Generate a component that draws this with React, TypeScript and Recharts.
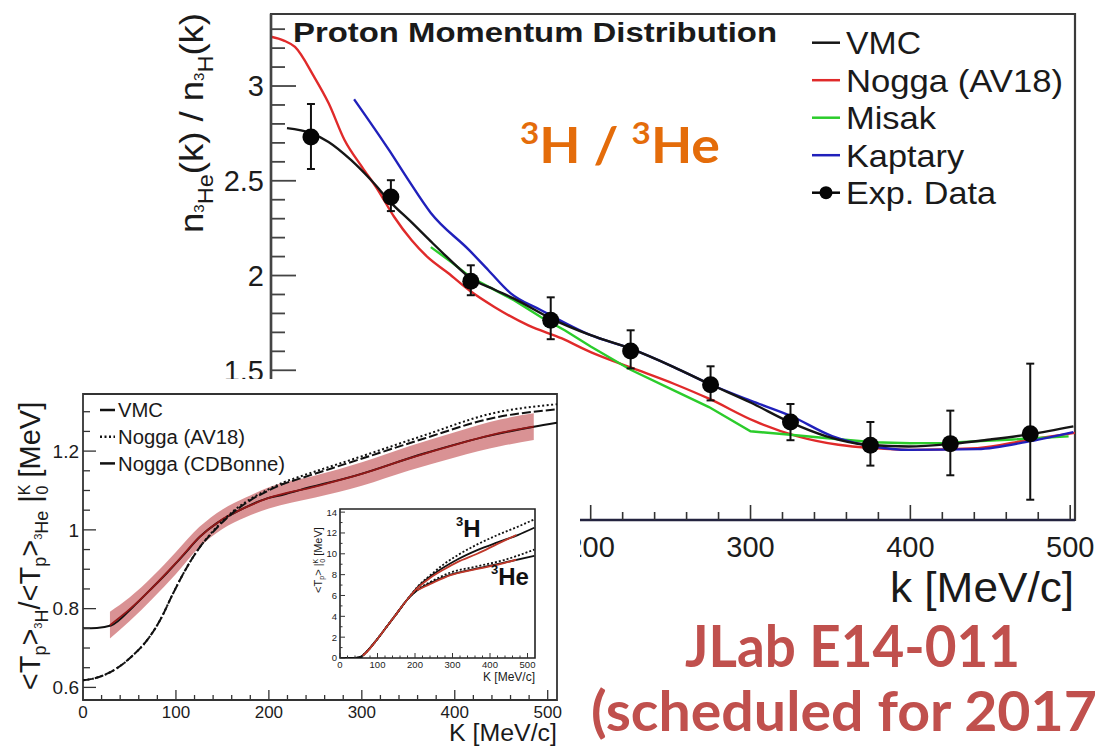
import React from 'react';
import { ComposedChart, Line, Area, Scatter, ErrorBar, XAxis, YAxis, ReferenceArea } from 'recharts';

const SANS = '"Liberation Sans", Arial, sans-serif';
const SLIDE = 'Lato, "Open Sans", sans-serif';

// ---- main plot: n_3He(k) / n_3H(k) ----
const expK = [25, 75, 125, 175, 225, 275, 325, 375, 425, 475];
const expV = [2.731, 2.414, 1.97, 1.764, 1.602, 1.424, 1.227, 1.104, 1.113, 1.165];
const expLo = [2.562, 2.34, 1.896, 1.664, 1.51, 1.341, 1.131, 0.997, 0.946, 0.817];
const expHi = [2.905, 2.503, 2.054, 1.885, 1.711, 1.521, 1.322, 1.227, 1.287, 1.535];

const vmcK = [10, 25, 36, 50, 63, 75, 88, 100, 113, 125, 140, 152, 175, 200, 225, 252, 274, 300, 325, 347, 373, 399, 425, 450, 475, 502];
const vmcV = [2.778, 2.752, 2.705, 2.61, 2.5, 2.385, 2.28, 2.18, 2.075, 1.985, 1.925, 1.878, 1.774, 1.685, 1.614, 1.517, 1.429, 1.33, 1.225, 1.153, 1.107, 1.098, 1.111, 1.135, 1.163, 1.204];

const noggaK = [0, 8, 15, 27, 36, 46, 57, 67, 77, 88, 98, 111, 124, 140, 161, 182, 200, 225, 252, 274, 303, 329, 355, 377, 399, 442, 475, 503];
const noggaV = [3.26, 3.24, 3.206, 3.048, 2.91, 2.715, 2.572, 2.45, 2.31, 2.186, 2.097, 2.012, 1.922, 1.833, 1.737, 1.668, 1.596, 1.515, 1.429, 1.35, 1.23, 1.153, 1.107, 1.089, 1.08, 1.089, 1.135, 1.17];

const misakK = [100, 113, 125, 152, 169, 184, 200, 225, 252, 274, 300, 325, 350, 377, 400, 421, 464, 499];
const misakV = [2.15, 2.07, 1.99, 1.87, 1.78, 1.71, 1.625, 1.503, 1.394, 1.306, 1.178, 1.16, 1.14, 1.12, 1.115, 1.117, 1.135, 1.151];

const kaptK = [52, 74, 86, 100, 124, 136, 150, 169, 200, 225, 252, 274, 300, 325, 351, 377, 399, 442, 475, 502];
const kaptV = [2.93, 2.66, 2.503, 2.33, 2.134, 2.028, 1.906, 1.817, 1.685, 1.614, 1.517, 1.429, 1.34, 1.26, 1.153, 1.098, 1.08, 1.084, 1.126, 1.174];

const mainYTicks = [0.8, 0.9, 1, 1.1, 1.2, 1.3, 1.4, 1.5, 1.6, 1.7, 1.8, 1.9, 2, 2.1, 2.2, 2.3, 2.4, 2.5, 2.6, 2.7, 2.8, 2.9, 3, 3.1, 3.2, 3.3];
const mainYMajor = [1.5, 2, 2.5, 3];
const mainXTicks = [0, 20, 40, 60, 80, 100, 120, 140, 160, 180, 200, 220, 240, 260, 280, 300, 320, 340, 360, 380, 400, 420, 440, 460, 480, 500];
const mainXMajor = [200, 300, 400, 500];
const allXMajor = [0, 100, 200, 300, 400, 500];

const mainLegend = ['VMC', 'Nogga (AV18)', 'Misak', 'Kaptary', 'Exp. Data'];

// ---- inset: <Tp>_3H / <Tp>_3He integrated up to K ----
const bandK = [29, 50, 75, 100, 125, 150, 175, 200, 250, 300, 350, 400, 450, 485];
const bandMid = [0.758, 0.798, 0.854, 0.916, 0.981, 1.027, 1.057, 1.081, 1.11, 1.142, 1.181, 1.216, 1.247, 1.262];
const bandLo = [0.724, 0.768, 0.826, 0.888, 0.955, 1.002, 1.032, 1.054, 1.082, 1.112, 1.15, 1.184, 1.213, 1.228];
const bandHi = [0.792, 0.828, 0.882, 0.944, 1.007, 1.052, 1.082, 1.108, 1.138, 1.172, 1.212, 1.248, 1.281, 1.296];

const vmcInK = [0, 15, 30, 54, 72, 90, 108, 126, 144, 162, 180, 198, 216, 233, 295, 367, 439, 485, 510];
const vmcInV = [0.75, 0.751, 0.757, 0.805, 0.847, 0.89, 0.936, 0.983, 1.017, 1.042, 1.063, 1.08, 1.09, 1.101, 1.139, 1.194, 1.24, 1.262, 1.272];

const noggaInK = [0, 18, 36, 54, 69, 83, 97, 112, 126, 140, 162, 180, 198, 216, 233, 295, 367, 439, 510];
const cdbV = [0.618, 0.627, 0.648, 0.682, 0.72, 0.771, 0.839, 0.906, 0.957, 0.995, 1.045, 1.075, 1.098, 1.117, 1.13, 1.177, 1.232, 1.283, 1.306];
const av18V = [0.618, 0.627, 0.648, 0.682, 0.72, 0.771, 0.839, 0.906, 0.957, 0.997, 1.048, 1.078, 1.101, 1.121, 1.135, 1.183, 1.24, 1.295, 1.319];

const insetYTicks = [0.6, 0.65, 0.7, 0.75, 0.8, 0.85, 0.9, 0.95, 1, 1.05, 1.1, 1.15, 1.2, 1.25, 1.3];
const insetYMajor = [0.6, 0.8, 1, 1.2];
const insetLegend = ['VMC', 'Nogga (AV18)', 'Nogga (CDBonne)'];

// ---- small inset: <Tp> up to K for 3H and 3He ----
const h3K = [0, 40, 55, 72, 98, 125, 152, 179, 206, 241, 277, 313, 366, 420, 474, 518];
const h3Solid = [0, 0, 0.1, 0.64, 1.75, 3.03, 4.31, 5.59, 6.75, 7.82, 8.7, 9.45, 10.35, 11.1, 11.8, 12.5];
const h3Dot = [0, 0, 0.1, 0.64, 1.75, 3.03, 4.31, 5.59, 6.8, 7.95, 9.0, 9.85, 10.9, 11.8, 12.6, 13.3];
const h3RedK = [60, 72, 98, 125, 152, 179, 206, 241, 277, 313, 366, 420, 470];
const h3Red = [0.2, 0.6, 1.75, 3.03, 4.31, 5.59, 6.7, 7.7, 8.5, 9.2, 10.0, 10.95, 11.8];
const he3K = [0, 40, 55, 72, 98, 125, 152, 179, 206, 241, 295, 366, 437, 518];
const he3Solid = [0, 0, 0.1, 0.64, 1.75, 3.03, 4.31, 5.59, 6.5, 7.19, 8.0, 8.6, 9.15, 9.8];
const he3Dot = [0, 0, 0.1, 0.64, 1.75, 3.03, 4.31, 5.59, 6.55, 7.3, 8.2, 8.8, 9.4, 10.4];
const he3RedK = [206, 241, 295, 366, 437, 470];
const he3Red = [6.5, 7.1, 7.95, 8.55, 9.1, 9.45];

const nestYTicks = [0, 1, 2, 3, 4, 5, 6, 7, 8, 9, 10, 11, 12, 13, 14];
const nestYMajor = [0, 2, 4, 6, 8, 10, 12, 14];

const toPts = (ks: number[], vs: number[]) => ks.map((k, i) => ({ k, v: vs[i] }));
const expData = expK.map((k, i) => ({ k, v: expV[i], err: [expV[i] - expLo[i], expHi[i] - expV[i]] }));
const bandData = bandK.map((k, i) => ({ k, mid: bandMid[i], range: [bandLo[i], bandHi[i]] }));

const near = (v: number, list: number[]) => list.some((m) => Math.abs(m - v) < 1e-6);

// ROOT style ticks: drawn inwards; long ones on majors, labels only where listed
function yTick(majors: number[], labels: number[], maj: number, min: number, fs: number, gap: number, color: string, sw: number) {
  return (p: any) => {
    const v = p.payload.value;
    return (
      <g>
        <line x1={p.x} x2={p.x + (near(v, majors) ? maj : min)} y1={p.y} y2={p.y} stroke={color} strokeWidth={sw} />
        {near(v, labels) && (
          <text x={p.x - gap} y={p.y} dy="0.36em" textAnchor="end" fontSize={fs} fill="#1c1c1c">
            {String(v)}
          </text>
        )}
      </g>
    );
  };
}

function xTick(majors: number[], labels: number[], maj: number, min: number, fs: number, gap: number, color: string, sw: number) {
  return (p: any) => {
    const v = p.payload.value;
    return (
      <g>
        <line x1={p.x} x2={p.x} y1={p.y} y2={p.y - (near(v, majors) ? maj : min)} stroke={color} strokeWidth={sw} />
        {near(v, labels) && (
          <text x={p.x} y={p.y + gap} textAnchor="middle" fontSize={fs} fill="#1c1c1c">
            {String(v)}
          </text>
        )}
      </g>
    );
  };
}

const ExpDot = (p: any) => <circle cx={p.cx} cy={p.cy} r={8.5} fill="#050505" />;

function MainChart() {
  return (
    <ComposedChart width={1105} height={750} margin={{ top: 14, right: 30, bottom: 0, left: 0 }}>
      <XAxis type="number" dataKey="k" domain={[0, 503]} allowDataOverflow ticks={mainXTicks} interval={0}
        height={230} tickSize={0} tickMargin={0} tickLine={false}
        axisLine={{ stroke: '#23233f', strokeWidth: 2.5 }}
        tick={xTick(allXMajor, mainXMajor, 15, 8, 29, 37, '#333', 1.6)} />
      <YAxis type="number" dataKey="v" domain={[0.71, 3.38]} allowDataOverflow ticks={mainYTicks} interval={0}
        width={271} tickSize={0} tickMargin={0} tickLine={false}
        axisLine={{ stroke: '#444', strokeWidth: 2.5 }}
        tick={yTick([1, 1.5, 2, 2.5, 3], mainYMajor, 25, 14, 29, 7, '#444', 1.8)} />
      <ReferenceArea x1={0} x2={503} y1={0.71} y2={3.38} fill="none" stroke="#3a3a3a" strokeWidth={2.2} />
      <Line data={toPts(noggaK, noggaV)} dataKey="v" type="monotone" stroke="#e02a2a" strokeWidth={2.4} dot={false} isAnimationActive={false} />
      <Line data={toPts(misakK, misakV)} dataKey="v" type="linear" stroke="#2bcc2b" strokeWidth={2.4} dot={false} isAnimationActive={false} />
      <Line data={toPts(kaptK, kaptV)} dataKey="v" type="monotone" stroke="#2020bb" strokeWidth={2.4} dot={false} isAnimationActive={false} />
      <Line data={toPts(vmcK, vmcV)} dataKey="v" type="monotone" stroke="#151515" strokeWidth={2.4} dot={false} isAnimationActive={false} />
      <Scatter data={expData} dataKey="v" fill="#050505" shape={ExpDot} isAnimationActive={false}>
        <ErrorBar dataKey="err" direction="y" width={4} stroke="#111" strokeWidth={2} isAnimationActive={false} />
      </Scatter>
    </ComposedChart>
  );
}

function InsetChart() {
  return (
    <ComposedChart width={580} height={371} data={bandData} margin={{ top: 15, right: 23, bottom: 0, left: 0 }}>
      <XAxis type="number" dataKey="k" domain={[0, 510]} allowDataOverflow ticks={mainXTicks} interval={0}
        height={50} tickSize={0} tickMargin={0} tickLine={false} axisLine={false}
        tick={xTick(allXMajor, allXMajor, 10, 5, 17, 18, '#333', 1.3)} />
      <YAxis type="number" domain={[0.568, 1.345]} allowDataOverflow ticks={insetYTicks} interval={0}
        width={83} tickSize={0} tickMargin={0} tickLine={false} axisLine={false}
        tick={yTick(insetYMajor, insetYMajor, 13, 7, 19, 4, '#333', 1.3)} />
      <ReferenceArea x1={0} x2={510} y1={0.568} y2={1.345} fill="none" stroke="#333" strokeWidth={1.8} />
      <Line data={toPts(vmcInK, vmcInV)} dataKey="v" type="monotone" stroke="#111" strokeWidth={2} dot={false} isAnimationActive={false} />
      <Area dataKey="range" type="monotone" fill="#c4575a" fillOpacity={0.65} stroke="none" isAnimationActive={false} />
      <Line dataKey="mid" type="monotone" stroke="#951818" strokeWidth={1.8} dot={false} isAnimationActive={false} />
      <Line data={toPts(noggaInK, cdbV)} dataKey="v" type="monotone" stroke="#111" strokeWidth={2} strokeDasharray="9 3" dot={false} isAnimationActive={false} />
      <Line data={toPts(noggaInK, av18V)} dataKey="v" type="monotone" stroke="#111" strokeWidth={2} strokeDasharray="2 2.5" dot={false} isAnimationActive={false} />
    </ComposedChart>
  );
}

function NestedChart() {
  const line = (d: { k: number; v: number }[], color: string, dash?: string) => (
    <Line data={d} dataKey="v" type="monotone" stroke={color} strokeWidth={1.8} strokeDasharray={dash}
      dot={false} isAnimationActive={false} />
  );
  return (
    <ComposedChart width={260} height={195} margin={{ top: 14, right: 15, bottom: 0, left: 0 }}>
      <XAxis type="number" dataKey="k" domain={[0, 520]} allowDataOverflow ticks={mainXTicks} interval={0}
        height={32} tickSize={0} tickMargin={0} tickLine={false} axisLine={false}
        tick={xTick(allXMajor, allXMajor, 5, 2.5, 9.5, 10, '#333', 1)} />
      <YAxis type="number" dataKey="v" domain={[0, 14.3]} allowDataOverflow ticks={nestYTicks} interval={0}
        width={50} tickSize={0} tickMargin={0} tickLine={false} axisLine={false}
        tick={yTick(nestYMajor, nestYMajor, 5, 2.5, 9.5, 3, '#333', 1)} />
      <ReferenceArea x1={0} x2={520} y1={0} y2={14.3} fill="none" stroke="#222" strokeWidth={1.6} />
      {line(toPts(h3K, h3Dot), '#111', '2 2')}
      {line(toPts(he3K, he3Dot), '#111', '2 2')}
      {line(toPts(h3K, h3Solid), '#111')}
      {line(toPts(he3K, he3Solid), '#111')}
      {line(toPts(h3RedK, h3Red), '#c0392b')}
      {line(toPts(he3RedK, he3Red), '#c0392b')}
    </ComposedChart>
  );
}

const mainLegendColor = ['#151515', '#e02a2a', '#2bcc2b', '#2020bb', '#050505'];
const mainLegendWidth = [75, 217, 90, 118, 150];
const insetLegendDash = [undefined, '2 2.5', undefined];
const insetLegendWidth = [45, 127, 167];

function Overlay() {
  return (
    <svg width={1105} height={750} style={{ position: 'absolute', left: 0, top: 0, pointerEvents: 'none' }}>
      {/* main plot title and legend */}
      <text x={293} y={42} fontSize={28} fontWeight="bold" fill="#1a1a1a" textLength={484} lengthAdjust="spacingAndGlyphs">
        Proton Momentum Distribution
      </text>
      {mainLegend.map((name, i) => {
        const y = 42.7 + i * 37.5;
        return (
          <g key={name}>
            <line x1={812} x2={840} y1={y} y2={y} stroke={mainLegendColor[i]} strokeWidth={2.5} />
            {i === 4 && <circle cx={826} cy={y} r={6.5} fill="#050505" />}
            <text x={846} y={y + 11.5} fontSize={32} fill="#1a1a1a" textLength={mainLegendWidth[i]} lengthAdjust="spacingAndGlyphs">
              {name}
            </text>
          </g>
        );
      })}
      {/* main axis titles */}
      <text transform="translate(203,123) rotate(-90)" textAnchor="middle" fontSize={34} fill="#1a1a1a"
        textLength={220} lengthAdjust="spacingAndGlyphs">
        <tspan>n</tspan>
        <tspan fontSize={14} dy={1}>3</tspan>
        <tspan fontSize={22} dy={9}>He</tspan>
        <tspan fontSize={34} dy={-10}>(k) / n</tspan>
        <tspan fontSize={14} dy={1}>3</tspan>
        <tspan fontSize={22} dy={9}>H</tspan>
        <tspan fontSize={34} dy={-10}>(k)</tspan>
      </text>
      <text x={1074} y={602} textAnchor="end" fontSize={42} fill="#1a1a1a" textLength={184} lengthAdjust="spacingAndGlyphs">
        k [MeV/c]
      </text>
      {/* slide annotations */}
      <text x={520} y={163} fontFamily={SLIDE} fontWeight="bold" fontSize={50} fill="#e46c0a" textLength={200} lengthAdjust="spacingAndGlyphs">
        <tspan fontSize={31} dy={-19}>3</tspan>
        <tspan dy={19}>H / </tspan>
        <tspan fontSize={31} dy={-19}>3</tspan>
        <tspan dy={19}>He</tspan>
      </text>
      <text x={685} y={667} fontFamily={SLIDE} fontWeight="bold" fontSize={58} fill="#c0504d" textLength={335} lengthAdjust="spacingAndGlyphs">
        JLab E14-011
      </text>
      <text x={591} y={731} fontFamily={SLIDE} fontWeight="bold" fontSize={56} fill="#c0504d" textLength={506} lengthAdjust="spacingAndGlyphs">
        (scheduled for 2017
      </text>
      {/* inset legend and titles */}
      {insetLegend.map((name, i) => {
        const y = 410 + i * 26.7;
        return (
          <g key={name}>
            <line x1={100} x2={115} y1={y} y2={y} stroke="#111" strokeWidth={2.5} strokeDasharray={insetLegendDash[i]} />
            <text x={118} y={y + 7.3} fontSize={20} fill="#1a1a1a" textLength={insetLegendWidth[i]} lengthAdjust="spacingAndGlyphs">
              {name}
            </text>
          </g>
        );
      })}
      <text transform="translate(40,546) rotate(-90)" textAnchor="middle" fontSize={29} fill="#1a1a1a">
        <tspan>{'<T'}</tspan>
        <tspan fontSize={18} dy={6}>p</tspan>
        <tspan fontSize={29} dy={-6}>{'>'}</tspan>
        <tspan fontSize={11} dy={2}>3</tspan>
        <tspan fontSize={18} dy={6}>H</tspan>
        <tspan fontSize={29} dy={-8}>{'/<T'}</tspan>
        <tspan fontSize={18} dy={6}>p</tspan>
        <tspan fontSize={29} dy={-6}>{'>'}</tspan>
        <tspan fontSize={11} dy={2}>3</tspan>
        <tspan fontSize={18} dy={6}>He</tspan>
        <tspan fontSize={29} dy={-8}>{' |'}</tspan>
        <tspan fontSize={16} dy={-10}>K</tspan>
        <tspan fontSize={16} dx={-10} dy={18}>0</tspan>
        <tspan fontSize={29} dy={-8}>{' [MeV]'}</tspan>
      </text>
      <text x={557} y={741} textAnchor="end" fontSize={23} fill="#1a1a1a" textLength={108} lengthAdjust="spacingAndGlyphs">
        K [MeV/c]
      </text>
      {/* small inset titles */}
      <text transform="translate(322,560) rotate(-90)" textAnchor="middle" fontSize={11} fill="#1a1a1a">
        <tspan>{'<T'}</tspan>
        <tspan fontSize={7} dy={2}>p</tspan>
        <tspan fontSize={11} dy={-2}>{'> |'}</tspan>
        <tspan fontSize={7} dy={-4}>K</tspan>
        <tspan fontSize={7} dx={-4} dy={7}>0</tspan>
        <tspan fontSize={11} dy={-3}>{'  [MeV]'}</tspan>
      </text>
      <text x={535} y={681} textAnchor="end" fontSize={12} fill="#1a1a1a">K [MeV/c]</text>
      <text x={456} y={537} fontSize={24} fontWeight="bold" fill="#111">
        <tspan fontSize={13} dy={-11}>3</tspan>
        <tspan dy={11}>H</tspan>
      </text>
      <text x={491} y={585} fontSize={24} fontWeight="bold" fill="#111">
        <tspan fontSize={13} dy={-11}>3</tspan>
        <tspan dy={11}>He</tspan>
      </text>
    </svg>
  );
}

export default function App() {
  return (
    <div style={{ position: 'fixed', left: 0, top: 0, width: 1105, height: 750, background: '#fff', fontFamily: SANS, overflow: 'hidden' }}>
      <div style={{ position: 'absolute', left: 0, top: 0 }}>
        <MainChart />
      </div>
      <div style={{ position: 'absolute', left: 0, top: 379, width: 580, height: 371, background: '#fff' }}>
        <InsetChart />
      </div>
      <div style={{ position: 'absolute', left: 290, top: 495 }}>
        <NestedChart />
      </div>
      <Overlay />
    </div>
  );
}
